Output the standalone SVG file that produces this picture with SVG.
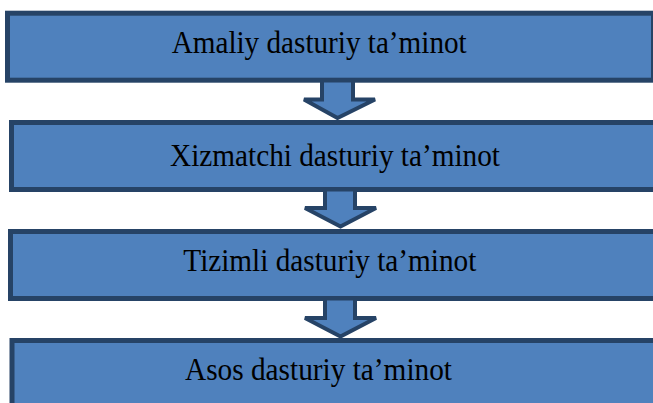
<svg xmlns="http://www.w3.org/2000/svg" width="653" height="403" viewBox="0 0 653 403">
<style>
.box{fill:#4f81bd;stroke:#264366;stroke-width:5}
.arr{fill:#4f81bd;stroke:#264366;stroke-width:4;stroke-linejoin:miter}
.lbl{font-family:"Liberation Serif","Times New Roman",serif;font-size:30.5px;fill:#000}
</style>
<rect width="653" height="403" fill="#fff"/>
<g id="node1">
<rect class="box" x="7.5" y="13.2" width="646" height="67"/>
<text class="lbl" x="171.7" y="53" textLength="295" lengthAdjust="spacingAndGlyphs">Amaliy dasturiy ta’minot</text>
</g>
<g id="node2">
<rect class="box" x="11.5" y="122.5" width="660" height="67"/>
<text class="lbl" x="170" y="166" textLength="330" lengthAdjust="spacingAndGlyphs">Xizmatchi dasturiy ta’minot</text>
</g>
<g id="node3">
<rect class="box" x="10.5" y="231.5" width="660" height="67"/>
<text class="lbl" x="183.3" y="271" textLength="293" lengthAdjust="spacingAndGlyphs">Tizimli dasturiy ta’minot</text>
</g>
<g id="node4">
<rect class="box" x="12" y="340.5" width="660" height="80"/>
<text class="lbl" x="185" y="380" textLength="267" lengthAdjust="spacingAndGlyphs">Asos dasturiy ta’minot</text>
</g>
<g id="connectors">
<polygon class="arr" points="322,80.5 353,80.5 353,99.5 375,99.5 337.5,118 304,99.5 322,99.5"/>
<polygon class="arr" points="325,189.5 355,189.5 355,208 376,208 340.5,226.5 305,208 325,208"/>
<polygon class="arr" points="325,298.5 355,298.5 355,318 376,318 340.5,336.5 305,318 325,318"/>
</g>
</svg>
